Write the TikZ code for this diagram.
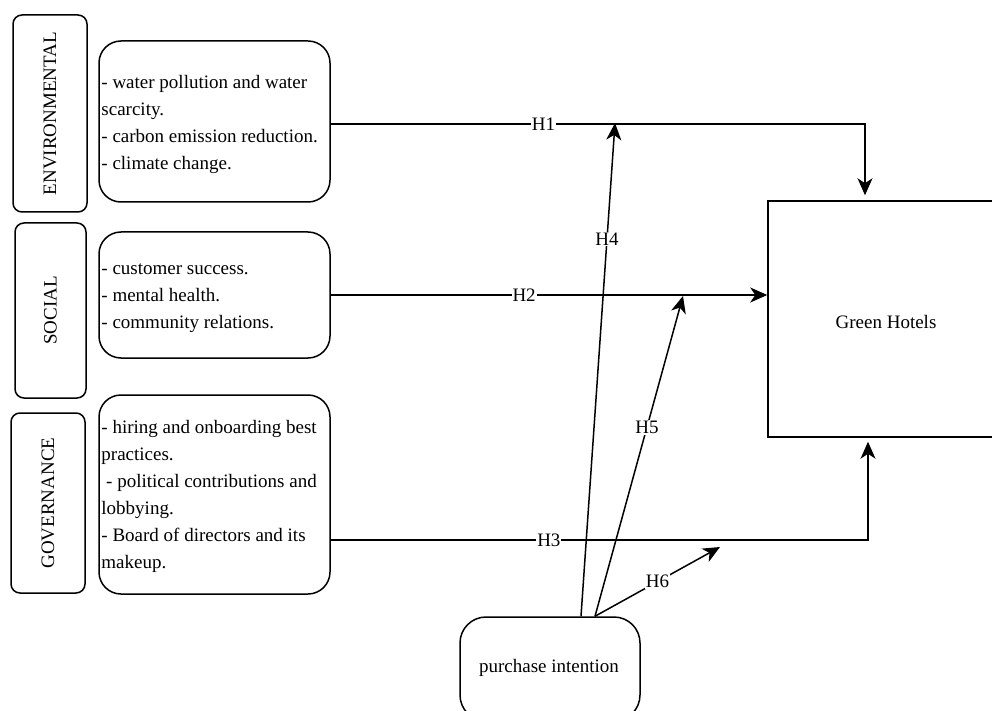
\documentclass[tikz,border=0pt]{standalone}
\usepackage{fontspec}
\setmainfont{Liberation Serif}
\usetikzlibrary{arrows.meta}
\begin{document}
\begin{tikzpicture}[x=1pt,y=-1pt,
  lbl/.style={draw, line width=1.5pt, rounded corners=9pt, inner sep=0pt, font=\fontsize{19}{22}\selectfont},
  cbox/.style={draw, line width=1.5pt, rounded corners=22pt, inner sep=0pt},
  txt/.style={align=left, inner sep=1pt, font=\fontsize{19}{27}\selectfont},
  arr/.style={-{Stealth[length=17pt,width=15pt,inset=5pt]}, line width=1.5pt},
  hl/.style={fill=white, inner sep=1pt, font=\fontsize{19}{22}\selectfont}]
\useasboundingbox (0,0) rectangle (992,711);
\clip (0,0) rectangle (992,711);

% left category labels
\node[lbl, rotate=90, minimum width=197pt, minimum height=74pt] (envl) at (50,113.5) {ENVIRONMENTAL};
\node[lbl, rotate=90, minimum width=175pt, minimum height=71pt] (socl) at (50.5,310.5) {SOCIAL};
\node[lbl, rotate=90, minimum width=180pt, minimum height=74pt] (govl) at (48,503) {GOVERNANCE};

% content boxes
\node[cbox, minimum width=231pt, minimum height=161pt] (env) at (214.5,121.5) {};
\node[txt, anchor=west] (envt) at ([xshift=2pt,yshift=-2.5pt]env.west) {- water pollution and water\\scarcity.\\- carbon emission reduction.\\- climate change.};
\node[cbox, minimum width=231pt, minimum height=126pt] (soc) at (214.5,295) {};
\node[txt, anchor=west] (soct) at ([xshift=2pt,yshift=-3pt]soc.west) {- customer success.\\- mental health.\\- community relations.};
\node[cbox, minimum width=231pt, minimum height=199pt] (gov) at (214.5,494.5) {};
\node[txt, anchor=west] (govt) at ([xshift=2pt,yshift=-2pt]gov.west) {- hiring and onboarding best\\practices.\\ \ - political contributions and\\lobbying.\\- Board of directors and its\\makeup.};

% Green Hotels
\node[draw, line width=1.5pt, minimum width=236pt, minimum height=236pt, inner sep=0pt] (gh) at (886,319) {};
\node[txt] (ght) at (886,322) {Green Hotels};

% purchase intention
\node[draw, line width=1.5pt, rounded corners=26pt, minimum width=180pt, minimum height=104pt, inner sep=0pt] (pi) at (550,669) {};
\node[txt] (pit) at (549,668) {purchase intention};

% targets for moderating arrows
\coordinate (h4e) at (615,123);
\coordinate (h5e) at (683,296);
\coordinate (h6e) at (720,547);

% H1
\draw[arr, shorten >=5pt] ([yshift=-2.5pt]env.east) -| node[hl, pos=0.199] {H1} ([xshift=-21pt]gh.north);
% H2
\draw[arr] (soc.east) -- node[hl, pos=0.443] {H2} (gh.west |- soc.east);
% H3
\draw[arr, shorten >=4pt] ([yshift=-45.5pt]gov.east) -| node[hl, pos=0.203] {H3} ([xshift=-18pt]gh.south);
% H4
\draw[arr] ([xshift=31pt]pi.north) -- node[hl, pos=0.765] {H4} (h4e);
% H5
\draw[arr] ([xshift=45pt]pi.north) -- node[hl, pos=0.59] {H5} (h5e);
% H6
\draw[arr] ([xshift=45pt]pi.north) -- node[hl, pos=0.5] {H6} (h6e);
\end{tikzpicture}
\end{document}
